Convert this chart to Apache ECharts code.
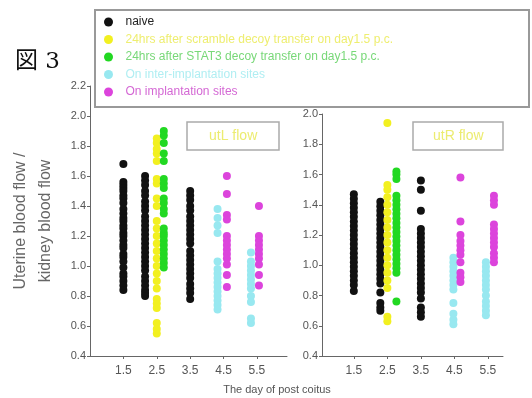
<!DOCTYPE html>
<html>
<head>
<meta charset="utf-8">
<script src="https://cdn.jsdelivr.net/npm/echarts@6/dist/echarts.min.js"></script>
<style>
  html, body { margin: 0; padding: 0; background: #fff; }
  #chart { width: 532px; height: 398px; }
</style>
</head>
<body>
<div id="chart"></div>
<script>
// день после коитуса (подписи оси X)
const days = [1.5, 2.5, 3.5, 4.5, 5.5]
const groupNames = [
  'naive',
  '24hrs after scramble decoy transfer on day1.5 p.c.',
  '24hrs after STAT3 decoy transfer on day1.5 p.c.',
  'On inter-implantation sites',
  'On implantation sites'
]
const groupColors = ['#111111', '#f2f020', '#22d822', '#98e8f0', '#dc44dc']
const legendTextColors = ['#222222', '#eeee70', '#78d878', '#b0eef2', '#d468d4']

// ut.L flow (левая панель)
const utLNaive15 = [1.68, 1.56, 1.54, 1.52, 1.50, 1.47, 1.45, 1.42, 1.38, 1.35, 1.32, 1.30, 1.27, 1.25, 1.22, 1.20, 1.17, 1.14, 1.12, 1.08, 1.06, 1.03, 0.99, 0.95, 0.93, 0.90, 0.87, 0.84]
const utLNaive25 = [1.60, 1.57, 1.54, 1.50, 1.47, 1.43, 1.40, 1.37, 1.33, 1.30, 1.27, 1.24, 1.21, 1.18, 1.15, 1.12, 1.09, 1.06, 1.03, 1.00, 0.97, 0.93, 0.90, 0.87, 0.84, 0.82, 0.80]
const utLScramble25 = [1.85, 1.82, 1.78, 1.75, 1.70, 1.58, 1.55, 1.45, 1.40, 1.30, 1.25, 1.20, 1.15, 1.10, 1.05, 1.00, 0.95, 0.90, 0.85, 0.78, 0.75, 0.72, 0.62, 0.58, 0.55]
const utLStat25 = [1.90, 1.87, 1.82, 1.75, 1.70, 1.58, 1.55, 1.52, 1.45, 1.42, 1.38, 1.35, 1.25, 1.22, 1.20, 1.17, 1.14, 1.11, 1.08, 1.05, 1.02, 0.99]
const utLNaive35 = [1.50, 1.47, 1.44, 1.40, 1.37, 1.33, 1.30, 1.27, 1.24, 1.21, 1.18, 1.15, 1.10, 1.07, 1.04, 1.01, 0.98, 0.95, 0.92, 0.88, 0.85, 0.82, 0.78]
const utLInter45 = [1.38, 1.32, 1.27, 1.22, 1.03, 0.98, 0.95, 0.92, 0.89, 0.86, 0.83, 0.80, 0.77, 0.74, 0.71]
const utLImpl45 = [1.60, 1.48, 1.34, 1.31, 1.20, 1.17, 1.14, 1.11, 1.08, 1.05, 1.01, 0.94, 0.86]
const utLInter55 = [1.09, 1.03, 1.00, 0.97, 0.94, 0.91, 0.88, 0.85, 0.80, 0.76, 0.65, 0.62]
const utLImpl55 = [1.40, 1.20, 1.17, 1.14, 1.11, 1.08, 1.05, 1.01, 0.94, 0.87]
// x каждой колонки точек (в днях)
const utLColumnX = [1.5, 2.15, 2.5, 2.71, 3.5, 4.32, 4.6, 5.32, 5.56]

// ut.R flow (правая панель)
const utRNaive15 = [1.47, 1.44, 1.41, 1.38, 1.35, 1.32, 1.29, 1.26, 1.23, 1.20, 1.17, 1.14, 1.11, 1.08, 1.05, 1.02, 0.99, 0.96, 0.93, 0.90, 0.87, 0.83]
const utRNaive25 = [1.42, 1.39, 1.36, 1.33, 1.30, 1.27, 1.24, 1.21, 1.18, 1.15, 1.12, 1.09, 1.06, 1.03, 1.00, 0.97, 0.94, 0.91, 0.88, 0.82, 0.75, 0.72, 0.70]
const utRScramble25 = [1.94, 1.53, 1.50, 1.45, 1.40, 1.35, 1.30, 1.25, 1.20, 1.15, 1.10, 1.05, 1.00, 0.95, 0.90, 0.85, 0.66, 0.63]
const utRStat25 = [1.62, 1.60, 1.57, 1.46, 1.43, 1.40, 1.37, 1.34, 1.31, 1.28, 1.25, 1.22, 1.19, 1.16, 1.13, 1.10, 1.07, 1.04, 1.01, 0.98, 0.95, 0.76]
const utRNaive35 = [1.56, 1.50, 1.36, 1.24, 1.21, 1.18, 1.15, 1.12, 1.09, 1.06, 1.03, 1.00, 0.97, 0.94, 0.91, 0.88, 0.85, 0.82, 0.78, 0.72, 0.69, 0.66]
const utRInter45 = [1.05, 1.02, 0.99, 0.96, 0.93, 0.90, 0.87, 0.84, 0.75, 0.68, 0.64, 0.61]
const utRImpl45 = [1.58, 1.29, 1.20, 1.16, 1.13, 1.10, 1.07, 1.02, 0.95, 0.92, 0.89]
const utRInter55 = [1.02, 0.99, 0.96, 0.93, 0.90, 0.87, 0.84, 0.80, 0.76, 0.73, 0.70, 0.67]
const utRImpl55 = [1.46, 1.43, 1.40, 1.27, 1.24, 1.21, 1.18, 1.15, 1.12, 1.08, 1.05, 1.02]
const utRColumnX = [1.5, 2.29, 2.5, 2.77, 3.5, 4.47, 4.68, 5.44, 5.68]

// группа каждой колонки: 0 naive, 1 scramble, 2 STAT3, 3 inter, 4 impl
const columnGroup = [0, 0, 1, 2, 0, 3, 4, 3, 4]
const utLColumns = [utLNaive15, utLNaive25, utLScramble25, utLStat25, utLNaive35, utLInter45, utLImpl45, utLInter55, utLImpl55]
const utRColumns = [utRNaive15, utRNaive25, utRScramble25, utRStat25, utRNaive35, utRInter45, utRImpl45, utRInter55, utRImpl55]

const labelColor = '#555'
const font = '"Liberation Sans Narrow", "Liberation Sans", Arial, sans-serif'

const makeSeries = (columns, columnX, panel) => columns.map((ys, i) => ({
  type: 'scatter',
  name: groupNames[columnGroup[i]],
  xAxisIndex: panel,
  yAxisIndex: panel,
  symbolSize: 8,
  itemStyle: { color: groupColors[columnGroup[i]], opacity: 1 },
  data: ys.map(y => [columnX[i], y]),
  z: 2
}))

const xAxisBase = (min, max, gridIndex) => ({
  type: 'value',
  gridIndex,
  min,
  max,
  axisLine: { lineStyle: { color: '#666' } },
  axisTick: { customValues: days, length: 3, lineStyle: { color: '#666' } },
  axisLabel: { customValues: days, color: labelColor, fontSize: 12, fontFamily: font, margin: 9, formatter: v => v.toFixed(1) },
  splitLine: { show: false }
})

const yAxisBase = (max, gridIndex) => ({
  type: 'value',
  gridIndex,
  min: 0.4,
  max,
  interval: 0.2,
  axisLine: { show: true, lineStyle: { color: '#666' } },
  axisTick: { show: true, length: 3, lineStyle: { color: '#666' } },
  axisLabel: { color: labelColor, fontSize: 11, fontFamily: font, margin: 4, formatter: v => v.toFixed(1) },
  splitLine: { show: false }
})

const chart = echarts.init(document.getElementById('chart'))

const option = {
  animation: false,
  backgroundColor: '#fff',
  title: [
    {
      text: '図 3',
      left: 10,
      top: 46,
      textStyle: { fontSize: 23, fontWeight: 'normal', color: '#111', fontFamily: '"DejaVu Serif", "Noto Sans CJK JP", serif' }
    },
    {
      text: 'utL flow',
      left: 187,
      top: 122,
      padding: [7, 22],
      borderColor: '#aaa',
      borderWidth: 1.5,
      textStyle: { fontSize: 14, fontWeight: 'normal', color: '#ecec70', fontFamily: font }
    },
    {
      text: 'utR flow',
      left: 413,
      top: 122,
      padding: [7, 20],
      borderColor: '#aaa',
      borderWidth: 1.5,
      textStyle: { fontSize: 14, fontWeight: 'normal', color: '#ecec70', fontFamily: font }
    }
  ],
  legend: {
    orient: 'vertical',
    left: 104,
    top: 16,
    padding: 0,
    itemWidth: 24,
    itemHeight: 9,
    itemGap: 5.5,
    icon: 'circle',
    z: 20,
    textStyle: { fontSize: 12, lineHeight: 12, fontFamily: '"Liberation Sans", Arial, sans-serif' },
    data: groupNames.map((name, i) => ({ name, itemStyle: { color: groupColors[i] }, textStyle: { color: legendTextColors[i] } }))
  },
  grid: [
    { left: 90, top: 86, width: 197, height: 270 },
    { left: 322, top: 114, width: 181, height: 242 }
  ],
  xAxis: [xAxisBase(0.5, 6.4, 0), xAxisBase(0.55, 5.95, 1)],
  yAxis: [
    Object.assign(yAxisBase(2.2, 0), {
      name: 'Uterine blood flow /\nkidney blood flow',
      nameLocation: 'middle',
      nameGap: 32,
      nameTextStyle: { fontSize: 16, color: '#666', lineHeight: 25, fontFamily: font }
    }),
    yAxisBase(2.0, 1)
  ],
  graphic: [
    {
      type: 'rect',
      z: 10,
      shape: { x: 95, y: 10, width: 434, height: 97 },
      style: { fill: '#fff', stroke: '#999', lineWidth: 2 }
    },
    {
      type: 'text',
      z: 10,
      style: { x: 277, y: 384, text: 'The day of post coitus', textAlign: 'center', fill: '#555', fontSize: 11, fontFamily: font }
    }
  ],
  series: [...makeSeries(utLColumns, utLColumnX, 0), ...makeSeries(utRColumns, utRColumnX, 1)]
}

chart.setOption(option)
</script>
</body>
</html>
